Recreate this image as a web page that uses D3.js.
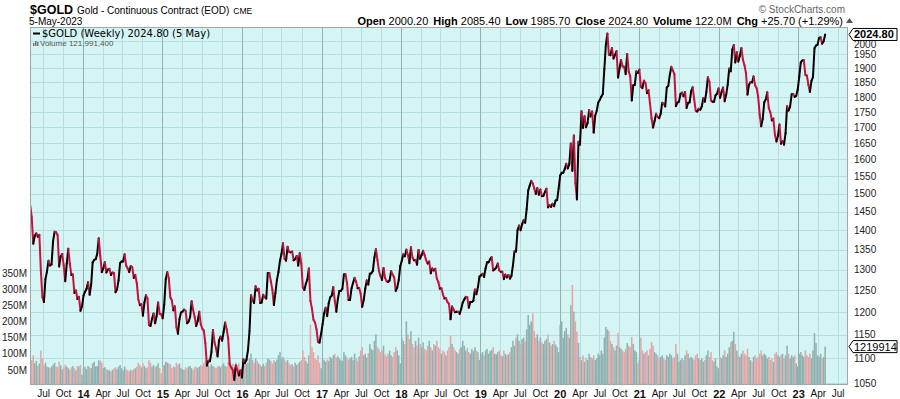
<!DOCTYPE html>
<html>
<head>
<meta charset="utf-8">
<script src="https://cdn.jsdelivr.net/npm/d3@7"></script>
<style>
  body { margin: 0; background: #fff; }
  svg { display: block; }
</style>
</head>
<body>
<svg id="chart" width="900" height="399"></svg>
<script>
// weekly closes, first bar is the week ending 3 May 2013
const firstWeek = "2013-05-03";
const close2013 = [1467,1435,1365,1386,1392,1383,1388,1297,1234,1223,1277,1295,1322,1310,1313,1371,1396,1395,1387,1308,
  1333,1339,1310,1272,1315,1352,1315,1287,1288,1244,1250,1230,1235,1203,1213];
const close2014 = [1238,1247,1254,1270,1240,1263,1318,1324,1326,1339,1379,1334,1294,1303,1318,1293,1300,1302,1287,1293,
  1292,1246,1252,1274,1316,1320,1320,1338,1310,1303,1294,1309,1306,1280,1287,1267,1229,1216,1218,1192,
  1222,1239,1231,1171,1169,1185,1197,1175,1191,1222,1196,1195];
const close2015 = [1186,1217,1277,1294,1279,1234,1227,1204,1213,1167,1152,1184,1199,1201,1206,1203,1175,1179,1189,1225,
  1205,1189,1169,1180,1201,1173,1163,1159,1132,1085,1095,1094,1113,1160,1134,1121,1104,1138,1146,1137,
  1156,1177,1162,1142,1088,1081,1076,1056,1085,1076,1065,1075];
const close2016 = [1061,1098,1090,1097,1117,1158,1239,1227,1221,1260,1250,1254,1221,1222,1240,1234,1231,1292,1292,1272,
  1252,1216,1244,1275,1294,1322,1339,1366,1327,1322,1357,1344,1343,1345,1323,1326,1334,1310,1341,1316,
  1257,1251,1266,1276,1303,1226,1208,1183,1177,1162,1134,1133,1152];
const close2017 = [1173,1197,1210,1191,1220,1234,1238,1258,1226,1201,1230,1249,1249,1254,1288,1289,1268,1228,1228,1255,
  1268,1280,1271,1255,1256,1242,1212,1228,1254,1274,1264,1290,1291,1297,1330,1351,1324,1297,1284,1275,
  1304,1280,1272,1270,1274,1296,1288,1281,1249,1257,1275,1309];
const close2018 = [1322,1338,1333,1350,1337,1316,1356,1330,1323,1324,1312,1349,1327,1336,1347,1336,1323,1315,1320,1291,
  1303,1298,1302,1278,1270,1254,1255,1241,1231,1232,1223,1219,1184,1213,1206,1200,1201,1201,1196,1207,
  1222,1229,1235,1234,1210,1223,1223,1226,1252,1241,1258,1283];
const close2019 = [1286,1290,1282,1303,1318,1318,1326,1331,1298,1301,1305,1315,1298,1295,1295,1277,1288,1281,1287,1278,
  1285,1311,1346,1345,1400,1413,1400,1416,1427,1420,1457,1509,1523,1537,1529,1515,1499,1516,1497,1512,
  1493,1494,1505,1514,1462,1468,1463,1472,1465,1481,1482,1515];
const close2020 = [1552,1560,1560,1571,1587,1573,1586,1649,1566,1674,1530,1484,1654,1645,1752,1698,1736,1700,1713,1756,
  1735,1751,1683,1737,1754,1781,1790,1801,1810,1897,1986,2028,1949,1947,1974,1935,1948,1962,1867,1900,
  1930,1906,1905,1879,1952,1888,1872,1788,1840,1841,1889,1883];
const close2021 = [1895,1835,1830,1856,1848,1813,1823,1777,1729,1699,1720,1744,1733,1729,1744,1780,1778,1768,1832,1838,
  1877,1905,1892,1879,1769,1781,1784,1810,1815,1802,1817,1763,1780,1782,1819,1833,1792,1754,1751,1760,
  1757,1768,1796,1784,1817,1868,1852,1788,1784,1784,1805,1811,1829];
const close2022 = [1797,1817,1832,1785,1807,1842,1899,1889,1967,1985,1921,1958,1924,1945,1974,1931,1911,1883,1808,1842,
  1851,1850,1871,1840,1830,1801,1742,1703,1727,1782,1791,1816,1762,1749,1722,1728,1677,1655,1672,1709,
  1648,1656,1645,1681,1769,1754,1768,1809,1810,1800,1804,1826];
const close2023 = [1870,1921,1928,1929,1876,1874,1842,1817,1855,1868,1973,1983,1986,2011,2015,1990,1999,2024.8];

// weekly volume, millions
const vol2013 = [105,80,95,70,78,62,70,110,85,65,72,60,58,55,60,66,72,60,58,75,64,52,58,66,60,55,50,58,62,55,48,62,60,65,35];
const vol2014 = [55,60,52,62,58,55,70,75,60,62,80,78,72,55,58,52,50,48,45,50,55,58,52,60,65,55,48,60,52,48,
  45,50,48,52,55,60,72,65,58,70,62,55,58,80,72,60,65,58,62,70,55,40];
const vol2015 = [60,65,75,72,70,68,55,60,58,72,65,70,55,52,50,58,55,60,62,55,50,58,60,55,60,65,62,70,78,80,
  65,60,68,62,58,55,60,62,58,65,70,62,60,75,70,62,68,58,72,65,70,45];
const vol2016 = [55,75,70,68,72,85,100,80,72,85,78,70,65,60,68,62,72,85,82,78,70,80,75,82,95,105,85,90,82,75,
  80,70,65,68,60,72,65,70,75,80,110,90,78,70,95,190,120,105,85,80,95,72,55];
const vol2017 = [85,80,75,82,78,90,85,95,100,88,92,85,80,78,105,95,88,82,85,90,80,100,85,78,92,110,120,95,100,88,
  102,130,115,110,140,160,120,115,105,110,125,98,92,100,110,95,90,105,120,110,95,70];
const vol2018 = [150,140,130,200,160,145,170,130,120,140,125,150,130,120,135,115,110,125,140,120,110,130,125,140,120,115,100,110,105,95,
  110,120,155,130,120,110,105,100,115,120,140,125,110,118,105,100,115,108,120,110,105,80];
const vol2019 = [100,105,95,110,115,100,108,112,120,100,98,105,110,95,92,110,100,95,98,105,120,140,125,150,160,140,130,145,150,138,
  175,220,190,200,225,170,150,160,140,150,135,130,140,145,160,135,125,130,140,128,120,105];
const vol2020 = [190,200,150,170,180,160,150,250,313,230,200,168,133,90,80,95,75,85,80,100,90,85,95,80,85,100,95,110,100,150,
  183,175,170,140,130,120,110,125,164,120,115,110,105,115,133,125,120,152,130,110,105,70];
const vol2021 = [80,150,110,100,105,110,95,115,137,125,105,100,95,85,90,95,85,80,95,90,100,95,85,90,130,100,75,80,85,80,
  95,110,100,85,90,85,80,95,100,85,80,85,75,80,95,110,90,105,80,75,85,60,55];
const vol2022 = [90,85,95,110,90,100,120,135,140,168,130,110,95,90,100,110,100,95,115,90,80,75,90,95,85,90,100,110,95,100,
  95,85,90,80,85,75,100,105,95,90,95,100,85,95,125,100,85,95,90,95,70,60];
const vol2023 = [100,105,95,90,110,95,90,100,85,110,164,133,95,90,100,85,90,122];

const priceTicks = [1050,1100,1150,1200,1250,1300,1350,1400,1450,1500,1550,1600,1650,1700,1750,1800,1850,1900,1950,2000];
const volumeTicks = [50,100,150,200,250,300,350];
const quoteLabels = ["Open","High","Low","Close","Volume","Chg"];
const quoteValues = ["2000.20","2085.40","1985.70","2024.80","122.0M","+25.70 (+1.29%)"];

const closes = [].concat(close2013, close2014, close2015, close2016, close2017, close2018,
  close2019, close2020, close2021, close2022, close2023);
const volumes = [].concat(vol2013, vol2014, vol2015, vol2016, vol2017, vol2018,
  vol2019, vol2020, vol2021, vol2022, vol2023);
const start = d3.timeParse("%Y-%m-%d")(firstWeek);
const data = closes.map((c, i) => ({
  date: d3.timeDay.offset(start, 7 * i),
  close: c,
  vol: volumes[i],
  up: i === 0 ? true : c >= closes[i - 1]
}));

const pLeft = 30, pRight = 848, pTop = 27, pBottom = 385;
const svg = d3.select("#chart");
const font = "'Liberation Sans', Arial, sans-serif";

const x = d3.scaleTime()
  .domain([new Date(2013, 4, 2), new Date(2023, 7, 18)])
  .range([pLeft, pRight]);
const y = d3.scaleLog().domain([1050, 2000]).range([383, 41]);
const yv = d3.scaleLinear().domain([0, 350]).range([386, 273]);

// plot background
svg.append("rect").attr("x", pLeft).attr("y", pTop)
  .attr("width", pRight - pLeft).attr("height", pBottom - pTop)
  .attr("fill", "#d5f4f4");

svg.append("clipPath").attr("id", "clip").append("rect")
  .attr("x", pLeft).attr("y", pTop).attr("width", pRight - pLeft).attr("height", pBottom - pTop);

// grid
const quarters = x.ticks(d3.timeMonth.every(3));
const grid = svg.append("g").attr("shape-rendering", "crispEdges");
grid.selectAll("line.h").data(priceTicks).join("line")
  .attr("class", "h")
  .attr("x1", pLeft).attr("x2", pRight)
  .attr("y1", d => Math.round(y(d)) + 0.5).attr("y2", d => Math.round(y(d)) + 0.5)
  .attr("stroke", "#b6dede");
grid.selectAll("line.v").data(quarters).join("line")
  .attr("class", "v")
  .attr("x1", d => Math.round(x(d)) + 0.5).attr("x2", d => Math.round(x(d)) + 0.5)
  .attr("y1", pTop).attr("y2", pBottom)
  .attr("stroke", d => d.getMonth() === 0 ? "#8fb3b3" : "#b6dede");

const plot = svg.append("g").attr("clip-path", "url(#clip)");

// volume bars
const bw = x(d3.timeDay.offset(start, 7)) - x(start);
plot.selectAll("rect.vol").data(data).join("rect")
  .attr("class", "vol")
  .attr("x", d => x(d.date) - bw / 2)
  .attr("width", bw)
  .attr("y", d => yv(d.vol))
  .attr("height", d => yv(0) - yv(d.vol))
  .attr("fill", d => d.up ? "#8fb2b1" : "#e4a5a7");

// price line, black weeks up, red weeks down
const line = d3.line().x(d => x(d.date)).y(d => y(d.close));
const segs = data.slice(1).map((d, i) => [data[i], d]);
plot.selectAll("path.seg").data(segs).join("path")
  .attr("class", "seg")
  .attr("d", line)
  .attr("fill", "none")
  .attr("stroke", d => d[1].up ? "#000" : "#c8103c")
  .attr("stroke-width", 2)
  .attr("stroke-linecap", "round")
  .attr("stroke-linejoin", "round");

// frame
svg.append("rect").attr("x", pLeft + 0.5).attr("y", pTop + 0.5)
  .attr("width", pRight - pLeft - 1).attr("height", pBottom - pTop - 1)
  .attr("fill", "none").attr("stroke", "#9aa").attr("shape-rendering", "crispEdges");

// axes
const xAxis = d3.axisBottom(x).tickValues(quarters).tickSize(0).tickPadding(5)
  .tickFormat(d => d.getMonth() === 0 ? d3.timeFormat("%y")(d) : d3.timeFormat("%b")(d));
const gx = svg.append("g").attr("transform", `translate(0,${pBottom})`).call(xAxis);
gx.select(".domain").remove();
gx.selectAll("text").attr("font-family", font).attr("fill", "#111")
  .attr("font-size", d => d.getMonth() === 0 ? 11 : 10)
  .attr("font-weight", d => d.getMonth() === 0 ? "bold" : "normal");

// 2000 sits under the last-close tag, as in the original
const gy = svg.append("g").attr("transform", `translate(${pRight},0)`)
  .call(d3.axisRight(y).tickValues(priceTicks).tickFormat(d3.format("d")).tickSize(0).tickPadding(6));
gy.select(".domain").remove();
gy.selectAll("text").attr("font-family", font).attr("font-size", 10).attr("fill", "#222")
  .attr("dy", d => d === 2000 ? "0.6em" : "0.32em");

const gv = svg.append("g").attr("transform", `translate(${pLeft},0)`)
  .call(d3.axisLeft(yv).tickValues(volumeTicks).tickFormat(d => d + "M").tickSize(0).tickPadding(3));
gv.select(".domain").remove();
gv.selectAll("text").attr("font-family", font).attr("font-size", 10).attr("fill", "#222");

// value tags on the right axis
function tag(yy, label, bold) {
  const g = svg.append("g");
  g.append("path")
    .attr("d", `M${pRight + 1},${yy} L${pRight + 5},${yy - 6} H897 V${yy + 6} H${pRight + 5} Z`)
    .attr("fill", "#fff").attr("stroke", "#000").attr("stroke-width", 1);
  g.append("text").attr("x", pRight + 6).attr("y", yy + 4)
    .attr("font-family", font).attr("font-size", 11)
    .attr("font-weight", bold ? "bold" : "normal").text(label);
}
const last = data[data.length - 1];
tag(y(last.close), d3.format(".2f")(last.close), true);
tag(yv(last.vol), "1219914", false);

// header
const h1 = svg.append("text").attr("x", 30).attr("y", 14).attr("font-family", font);
h1.append("tspan").attr("font-size", 12.5).attr("font-weight", "bold").text("$GOLD");
h1.append("tspan").attr("font-size", 10).attr("dx", 4).text("Gold - Continuous Contract (EOD)");
h1.append("tspan").attr("font-size", 8.5).attr("dx", 4).text("CME");
svg.append("text").attr("x", 29).attr("y", 25).attr("font-family", font)
  .attr("font-size", 10).text("5-May-2023");

svg.append("text").attr("x", 845).attr("y", 13).attr("text-anchor", "end")
  .attr("font-family", font).attr("font-size", 10).attr("fill", "#666")
  .text("\u00A9 StockCharts.com");

const q = svg.append("text").attr("x", 843).attr("y", 25).attr("text-anchor", "end")
  .attr("font-family", font).attr("font-size", 11);
quoteLabels.forEach((l, i) => {
  q.append("tspan").attr("font-weight", "bold").attr("dx", i ? 5 : 0).text(l);
  q.append("tspan").attr("dx", 3).text(quoteValues[i]);
});
svg.append("path").attr("d", "M846,23 L849.5,18 L853,23 Z").attr("fill", "#555");

// legend inside the plot
svg.append("line").attr("x1", 33).attr("x2", 40).attr("y1", 33.5).attr("y2", 33.5)
  .attr("stroke", "#000").attr("stroke-width", 2);
svg.append("text").attr("x", 42).attr("y", 37)
  .attr("font-family", "'DejaVu Sans', Verdana, sans-serif").attr("font-size", 10)
  .text("$GOLD (Weekly) 2024.80 (5 May)");
const icon = svg.append("g").attr("fill", "#777");
[[33, 3], [35, 5], [37, 4]].forEach(([bx, bh]) =>
  icon.append("rect").attr("x", bx).attr("y", 46 - bh).attr("width", 1.5).attr("height", bh));
svg.append("text").attr("x", 40).attr("y", 46)
  .attr("font-family", font).attr("font-size", 8).attr("fill", "#555")
  .text("Volume 121,991,400");
</script>
</body>
</html>
